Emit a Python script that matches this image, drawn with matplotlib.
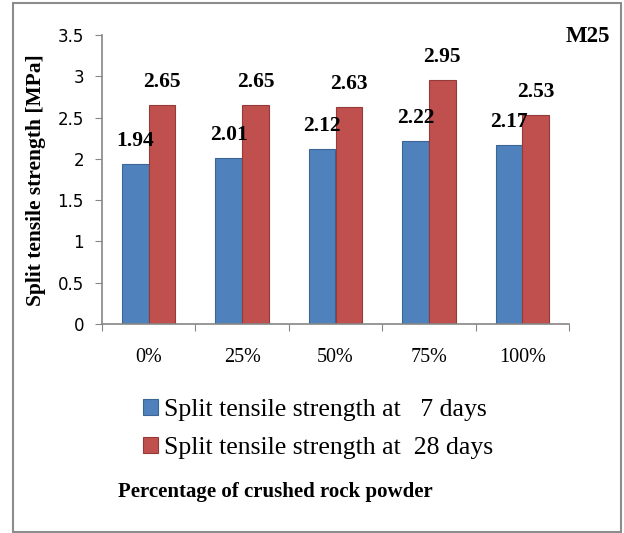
import numpy as np
import matplotlib
matplotlib.use("Agg")
import matplotlib.pyplot as plt
from matplotlib.patches import Rectangle

# Datos
categorias = ["0%", "25%", "50%", "75%", "100%"]
dias7 = [1.94, 2.01, 2.12, 2.22, 2.17]
dias28 = [2.65, 2.65, 2.63, 2.95, 2.53]
etiquetas = ["Split tensile strength at   7 days", "Split tensile strength at  28 days"]
yticks = [0, 0.5, 1, 1.5, 2, 2.5, 3, 3.5]

azul, azul_borde = "#4F81BD", "#3A6594"
rojo, rojo_borde = "#C0504D", "#943A38"
gris = "#868686"
serif = ["Liberation Serif", "DejaVu Serif"]

fig = plt.figure(figsize=(6.24, 5.33), dpi=100)
ax = fig.add_axes([102 / 624, 1 - 324 / 533, (569 - 102) / 624, (324 - 35) / 533])

x = np.arange(len(categorias))
w = 0.285
b1 = ax.bar(x - w / 2, dias7, w, color=azul, edgecolor=azul_borde, linewidth=0.8, label=etiquetas[0])
b2 = ax.bar(x + w / 2, dias28, w, color=rojo, edgecolor=rojo_borde, linewidth=0.8, label=etiquetas[1])

# Etiquetas de valores encima de cada barra
for barras in (b1, b2):
    for r in barras:
        ax.annotate(f"{r.get_height():.2f}", (r.get_x() + r.get_width() / 2, r.get_height()),
                    xytext=(0, 16.5), textcoords="offset points", ha="center", va="center",
                    fontsize=15.5, fontweight="bold", family=serif)

ax.set_xlim(-0.5, len(categorias) - 0.5)
ax.set_ylim(0, 3.5)
ax.set_yticks(yticks)
ax.set_yticklabels([f"{v:g}" for v in yticks], family="DejaVu Sans", fontsize=12)
ax.set_xticks(np.arange(len(categorias) + 1) - 0.5)
ax.set_xticklabels([])
ax.set_xticks(x, minor=True)
ax.set_xticklabels(categorias, minor=True, family=serif, fontsize=14.5)
ax.tick_params(axis="x", which="minor", length=0, pad=17)
ax.tick_params(axis="x", which="major", length=5, color=gris, direction="out")
ax.tick_params(axis="y", length=5, color=gris, direction="out", pad=8)

for s in ["top", "right"]:
    ax.spines[s].set_visible(False)
for s in ["left", "bottom"]:
    ax.spines[s].set_color(gris)
    ax.spines[s].set_linewidth(1.2)

# Titulo del eje y, puesto a mano para que quede cerca del borde
fig.text(36 / 624, 1 - 180 / 533, "Split tensile strength [MPa]", rotation=90, ha="center", va="center",
         family=serif, fontweight="bold", fontsize=15.5)

fig.text(588 / 624, 1 - 36 / 533, "M25", ha="center", va="center", family=serif, fontweight="bold", fontsize=16.5)

leg = fig.legend(handles=[b1, b2], loc="center", bbox_to_anchor=(318 / 624, 1 - 429 / 533), frameon=False,
                 prop={"family": serif, "size": 18.5}, handlelength=0.6, handleheight=0.6,
                 handletextpad=0.25, labelspacing=0.6)

fig.text(275 / 624, 1 - 492 / 533, "Percentage of crushed rock powder", ha="center", va="center",
         family=serif, fontweight="bold", fontsize=15)

# Marco exterior
fig.patches.append(Rectangle((13 / 624, 1 / 533), (621 - 13) / 624, (530 - 1) / 533, transform=fig.transFigure,
                             fill=False, edgecolor="#8c8c8c", linewidth=1.5))

fig.savefig("out.png", dpi=100, facecolor="white")
